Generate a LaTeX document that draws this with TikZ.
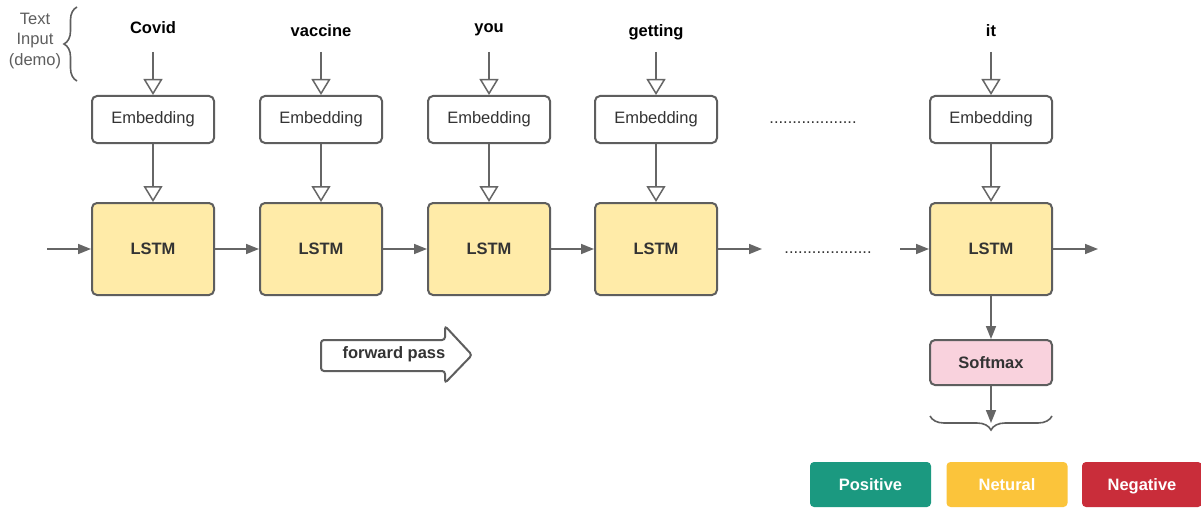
\documentclass[tikz,border=0pt]{standalone}
\usepackage{fontspec}
\setmainfont{Liberation Sans}
\usetikzlibrary{arrows.meta,decorations.pathreplacing}
\definecolor{strokegray}{HTML}{5E5E5E}
\definecolor{linegray}{HTML}{666666}
\definecolor{lstmfill}{HTML}{FFEBA8}
\definecolor{smfill}{HTML}{F9D2DD}
\definecolor{posfill}{HTML}{1B9980}
\definecolor{neufill}{HTML}{FBC43B}
\definecolor{negfill}{HTML}{C92D3A}
\definecolor{txtdark}{HTML}{333333}
\begin{document}
\begin{tikzpicture}[x=1pt,y=-1pt,
  every node/.style={font=\fontsize{16.5}{20.5}\selectfont, inner sep=0pt},
  word/.style={font=\fontsize{16.5}{20.5}\selectfont\bfseries, anchor=base, text=black},
  embbox/.style={draw=strokegray, line width=2pt, rounded corners=5pt, fill=white, minimum width=122pt, minimum height=47pt, text=txtdark},
  lstmbox/.style={draw=strokegray, line width=2pt, rounded corners=5pt, fill=lstmfill, minimum width=122pt, minimum height=92pt, text=txtdark, font=\fontsize{16.5}{20.5}\selectfont\bfseries},
  smbox/.style={draw=strokegray, line width=2pt, rounded corners=5pt, fill=smfill, minimum width=122pt, minimum height=45pt, text=txtdark, font=\fontsize{16.5}{20.5}\selectfont\bfseries},
  classbox/.style={rounded corners=4pt, minimum height=45pt, text height=12pt, text depth=0pt, text=white, font=\fontsize{16.5}{20.5}\selectfont\bfseries},
  hollow/.style={draw=linegray, line width=1.5pt, -{Triangle[open, length=16pt, width=19pt, fill=white]}},
  solid arrow/.style={draw=linegray, line width=1.6pt, -{Triangle[length=13pt, width=10pt]}},
  dotstext/.style={anchor=base, text=txtdark},
]
\fill[white] (0,0) rectangle (1201,508);
\useasboundingbox (0,0) rectangle (1201,508);

% left label and brace
\node[align=center, text=strokegray] (ti) at (35,41) {Text\\Input\\(demo)};
\coordinate (brb) at (77,81);
\coordinate (brt) at (77,7);
\draw[strokegray, line width=1.6pt, decorate, decoration={brace, amplitude=13pt}] (brb) -- (brt);

% words
\node[word] (w1) at (153,34) {Covid};
\node[word] (w2) at (321,36.5) {vaccine};
\node[word] (w3) at (489,32.5) {you};
\node[word] (w4) at (656,36.5) {getting};
\node[word] (w5) at (991,36.5) {it};

% embedding boxes
\node[embbox] (e1) at (153,119.5) {Embedding};
\node[embbox] (e2) at (321,119.5) {Embedding};
\node[embbox] (e3) at (489,119.5) {Embedding};
\node[embbox] (e4) at (656,119.5) {Embedding};
\node[embbox] (e5) at (991,119.5) {Embedding};

% LSTM boxes
\node[lstmbox] (l1) at (153,249) {LSTM};
\node[lstmbox] (l2) at (321,249) {LSTM};
\node[lstmbox] (l3) at (489,249) {LSTM};
\node[lstmbox] (l4) at (656,249) {LSTM};
\node[lstmbox] (l5) at (991,249) {LSTM};

% dots
\node[dotstext] (dtop) at (813,124) {...................};
\node[dotstext] (dmid) at (828,253.5) {...................};

% word -> embedding arrows
\foreach \i/\x in {1/153,2/321,3/489,4/656,5/991}{
  \coordinate (s\i) at (\x,52);
  \draw[hollow] (s\i) -- (e\i.north);
  \draw[hollow] (e\i.south) -- (l\i.north);
}

% horizontal arrows
\coordinate (hin) at (47,249);
\coordinate (h4out) at (762,249);
\coordinate (h5in) at (900,249);
\coordinate (h5out) at (1098,249);
\draw[solid arrow] (hin) -- (l1.west);
\draw[solid arrow] (l1.east) -- (l2.west);
\draw[solid arrow] (l2.east) -- (l3.west);
\draw[solid arrow] (l3.east) -- (l4.west);
\draw[solid arrow] (l4.east) -- (h4out);
\draw[solid arrow] (h5in) -- (l5.west);
\draw[solid arrow] (l5.east) -- (h5out);

% softmax
\node[smbox] (sm) at (991,362.5) {Softmax};
\draw[solid arrow] (l5.south) -- (sm.north);
\coordinate (brr) at (1052,416);
\coordinate (brl) at (930,416);
\coordinate (brc) at (991,423);
\draw[strokegray, line width=1.6pt, decorate, decoration={brace, amplitude=14pt}] (brr) -- (brl);
\draw[solid arrow] (sm.south) -- (brc);

% class boxes
\node[classbox, fill=posfill, minimum width=121pt] (pos) at (870.5,484.5) {Positive};
\node[classbox, fill=neufill, minimum width=121pt] (neu) at (1007,484.5) {Netural};
\node[classbox, fill=negfill, minimum width=120pt] (neg) at (1142,484.5) {Negative};

% forward pass arrow
\draw[strokegray, line width=2pt, rounded corners=3pt, fill=white]
  (321,340) -- (445,340) -- (445,326) -- (472,355) -- (445,383) -- (445,371) -- (321,371) -- cycle;
\node[text=txtdark, font=\fontsize{16.5}{20.5}\selectfont\bfseries] (fp) at (394,354) {forward pass};
\end{tikzpicture}
\end{document}
